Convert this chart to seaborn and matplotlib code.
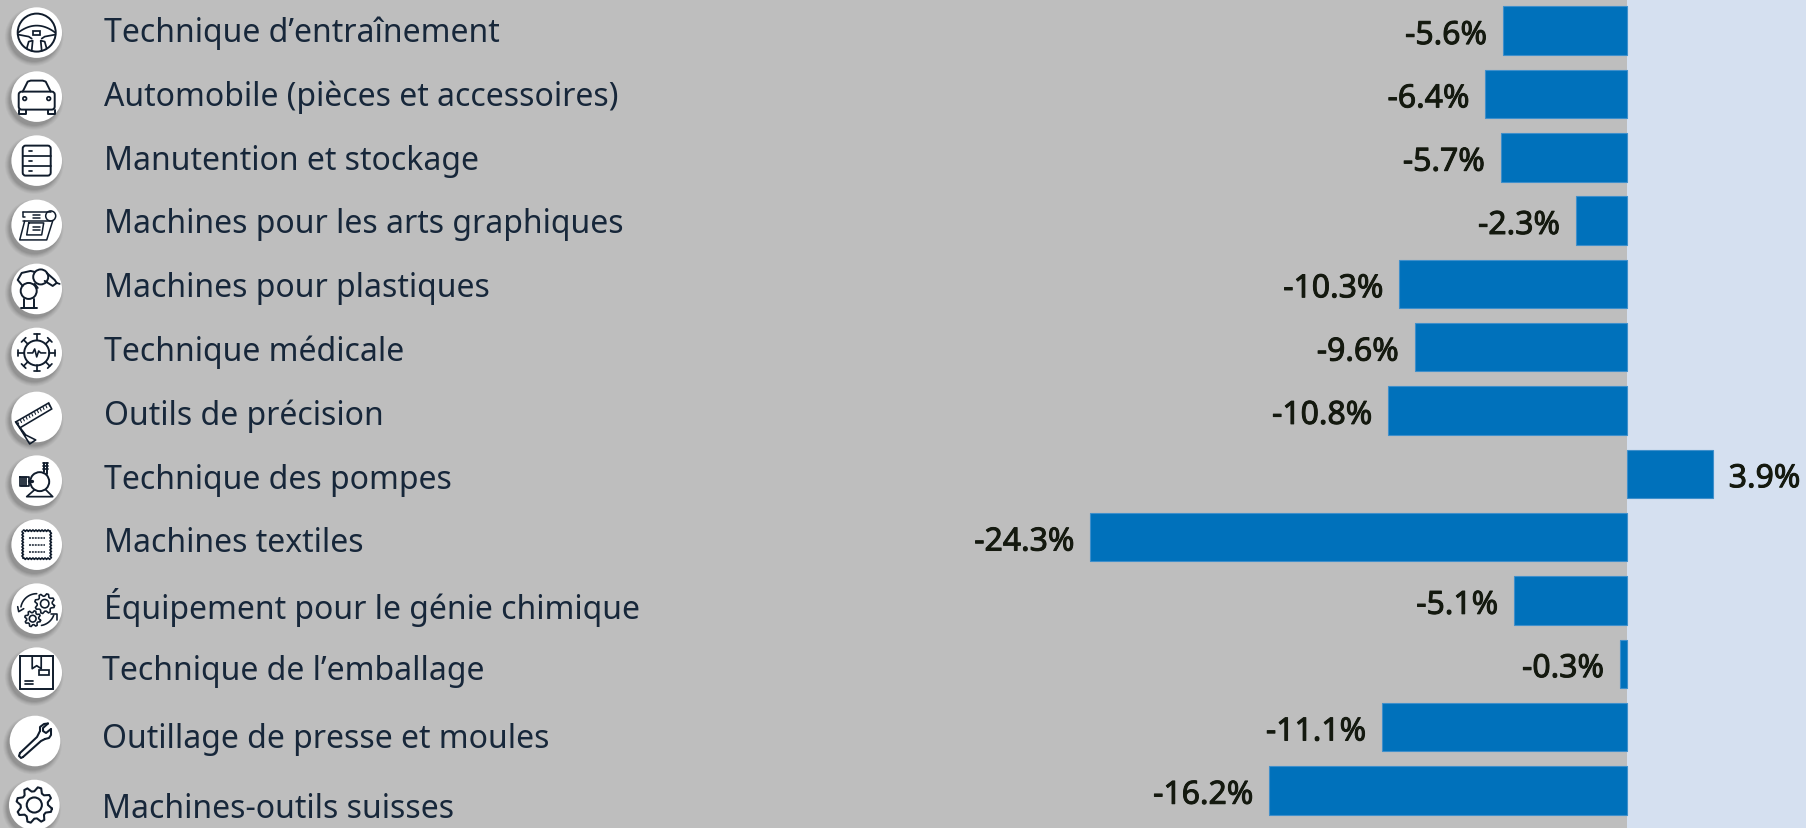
import numpy as np
import pandas as pd
import seaborn as sns
import matplotlib.pyplot as plt
import matplotlib.patheffects as pe
from matplotlib.patches import Circle, Rectangle, FancyBboxPatch, Polygon

categories = ["Technique d’entraînement", "Automobile (pièces et accessoires)",
              "Manutention et stockage", "Machines pour les arts graphiques",
              "Machines pour plastiques", "Technique médicale",
              "Outils de précision", "Technique des pompes", "Machines textiles",
              "Équipement pour le génie chimique", "Technique de l’emballage",
              "Outillage de presse et moules", "Machines-outils suisses"]
values = [-5.6, -6.4, -5.7, -2.3, -10.3, -9.6, -10.8, 3.9, -24.3, -5.1, -0.3, -11.1, -16.2]

# positions in pixels, the source slide is not quite regular
label_x = [104, 104, 104, 104, 104, 104, 104, 104, 104, 104, 102, 102, 102]
label_y = [33, 97, 161, 224, 288, 352, 416, 480, 543, 607, 671, 739, 809]
icon_x = [36.7, 36.7, 36.7, 36.7, 36.7, 36.7, 36.7, 36.7, 36.7, 36.7, 36.7, 35, 34.3]
icon_y = [32.7, 96.7, 160.7, 225, 289, 353, 417, 480.7, 544.7, 608.7, 672.7, 741, 805]

BG = "#BEBEBE"
RIGHT = "#D5E0F0"
BAR = "#0071BB"
LABEL = "#17273A"
VALUE = "#14190F"
INK = "#101C2C"
FONT = "Noto Sans"
LW = 0.78

W, H = 1806, 828
fig = plt.figure(figsize=((W + 0.1) / 100, (H + 0.1) / 100), dpi=100, facecolor=BG)
ax = fig.add_axes([0, 0, 1, 1])
ax.set_facecolor(BG)

df = pd.DataFrame({"cat": categories, "val": values})
sns.barplot(data=df, x="val", y="cat", order=categories, orient="h", color=BAR,
            saturation=1, width=0.766, edgecolor="#3F8FCB", linewidth=0.8, ax=ax)
ax.set_xlim(-73.7, 8.13)
ax.set_ylim(12.594, -0.4866)
ax.axvspan(0, 8.13, color=RIGHT, lw=0, zorder=0)
texts = ax.bar_label(ax.containers[0], labels=[f"{v:.1f}%" for v in values], padding=11.5,
                     fontsize=23, color=VALUE, family=FONT)
for t in texts:
    t.xyann = (t.xyann[0], -3.5)
    t.set_path_effects([pe.withStroke(linewidth=0.7, foreground=VALUE)])
ax.set_axis_off()

# overlay in pixel units for the row labels and pictograms
ov = fig.add_axes([0, 0, 1, 1])
ov.set_xlim(0, W)
ov.set_ylim(H, 0)
ov.set_axis_off()
ov.patch.set_alpha(0)

for name, x, y in zip(categories, label_x, label_y):
    ov.text(x, y, name, fontsize=23, color=LABEL, family=FONT, va="center", ha="left")


def ln(cx, cy, xs, ys, lw=1.6):
    ov.plot(cx + np.array(xs, float), cy + np.array(ys, float), color=INK, lw=lw * LW,
            solid_capstyle="round", solid_joinstyle="round", zorder=6)


def circ(cx, cy, x, y, r, lw=1.6):
    ov.add_patch(Circle((cx + x, cy + y), r, fc="none", ec=INK, lw=lw * LW, zorder=6))


def rect(cx, cy, x0, y0, w, h, lw=1.6, pad=0):
    if pad:
        ov.add_patch(FancyBboxPatch((cx + x0 + pad, cy + y0 + pad), w - 2 * pad, h - 2 * pad,
                                    boxstyle=f"round,pad={pad}", fc="none", ec=INK, lw=lw * LW, zorder=6))
    else:
        ov.add_patch(Rectangle((cx + x0, cy + y0), w, h, fc="none", ec=INK, lw=lw * LW, zorder=6))


def gear(cx, cy, x, y, r, teeth=8, lw=1.6, hole=0.42):
    a = np.linspace(0, 2 * np.pi, teeth * 4 + 1) + np.pi / teeth / 2
    rad = np.tile([r, r, r * 0.76, r * 0.76], teeth + 1)[:len(a)]
    ln(cx, cy, x + rad * np.cos(a), y + rad * np.sin(a), lw)
    circ(cx, cy, x, y, r * hole, lw)


def icon_wheel(cx, cy):
    circ(cx, cy, 0, 0, 19, 1.8)
    t = np.linspace(-1, 1, 20)
    ln(cx, cy, 18.5 * t, -7 * (1 - t ** 2), 1.6)
    ln(cx, cy, [-18.5, -8, -5], [2, 4, 6])
    ln(cx, cy, [18.5, 8, 5], [2, 4, 6])
    rect(cx, cy, -3.5, -2, 7, 4.5, 1.6)
    ln(cx, cy, [-10, -8, -4, -5], [16, 9, 8, 18])
    ln(cx, cy, [10, 8, 4, 5], [16, 9, 8, 18])


def icon_car(cx, cy):
    ln(cx, cy, [-14, -9, -6, 6, 9, 14], [-5, -15, -16, -16, -15, -5], 1.8)
    rect(cx, cy, -18, -5, 36, 18, 1.8, pad=3)
    circ(cx, cy, -12, 2, 1.8)
    circ(cx, cy, 12, 2, 1.8)
    ln(cx, cy, [-18, -18, -11, -11], [13, 17, 17, 13], 1.8)
    ln(cx, cy, [18, 18, 11, 11], [13, 17, 17, 13], 1.8)


def icon_rack(cx, cy):
    rect(cx, cy, -14, -15, 28, 30, 1.8, pad=3)
    for yy in (-5, 5):
        ln(cx, cy, [-14, 14], [yy, yy], 1.6)
    for yy in (-10, 0, 10):
        ln(cx, cy, [-8, -5], [yy, yy], 1.6)


def icon_print(cx, cy):
    ln(cx, cy, [-14, 14], [-13, -13], 1.4)
    ln(cx, cy, [-14, 14], [-4, -4], 1.4)
    circ(cx, cy, 14, -9, 5, 1.4)
    ln(cx, cy, [-14, -14, -12], [-13, -8, -8], 1.4)
    ln(cx, cy, [-12, -17, 10, 16], [-4, 15, 15, -4], 1.4)
    ln(cx, cy, [-8, -10, 5, 7, -8], [-2, 10, 10, -2, -2], 1.4)
    for yy in (-10, -7, 2, 5):
        ln(cx, cy, [-4, 3], [yy, yy], 1.4)


def icon_robot(cx, cy):
    circ(cx, cy, -8, 2, 8, 1.8)
    circ(cx, cy, 4, -12, 7.5, 1.8)
    ln(cx, cy, [-14, -19, -15, -6, -2], [-3, -9, -16, -18, -17], 1.8)
    ln(cx, cy, [-2, 1], [-5, -1], 1.8)
    ln(cx, cy, [10, 18, 20, 16, 8], [-16, -9, -6, -3, -8], 1.8)
    ln(cx, cy, [20, 23], [-6, -5], 1.6)
    ln(cx, cy, [-13, -13], [10, 19], 1.8)
    ln(cx, cy, [-3, -3], [10, 19], 1.8)
    ln(cx, cy, [-16, 0], [19, 19], 1.8)


def icon_virus(cx, cy):
    circ(cx, cy, 0, 0, 12.5, 1.8)
    for a in np.arange(8) * np.pi / 4:
        ca, sa = np.cos(a), np.sin(a)
        ln(cx, cy, [12.5 * ca, 18.5 * ca], [12.5 * sa, 18.5 * sa], 1.6)
        ln(cx, cy, [18.5 * ca - 3 * sa, 18.5 * ca + 3 * sa], [18.5 * sa + 3 * ca, 18.5 * sa - 3 * ca], 1.6)
    ln(cx, cy, [-9, -4, -2, 0, 2, 4, 9], [0, 0, -4, 4, -2, 0, 0], 1.5)


def icon_square(cx, cy):
    ov.add_patch(Polygon(np.array([[-21, 5], [12, -14], [15, -8], [-17, 11]]) + [cx, cy],
                         fc="none", ec=INK, lw=1.5 * LW, zorder=6))
    for k in np.linspace(0, 1, 12):
        x0, y0 = -19 + 31 * k, 5 - 18 * k
        ln(cx, cy, [x0, x0 + 1], [y0, y0 + 2.2], 1.0)
    ln(cx, cy, [-17, -7, -1, -11, -21], [11, 27, 23, 18, 5], 1.5)


def icon_pump(cx, cy):
    circ(cx, cy, 3, 1, 9.5, 1.8)
    ln(cx, cy, [-17, -8, -8, -17, -17], [-4, -4, 5, 5, -4], 1.6)
    for xx in (-15, -13, -11):
        ln(cx, cy, [xx, xx], [-4, 5], 1.6)
    ln(cx, cy, [-8, -5], [0, 0], 3)
    ln(cx, cy, [7, 7], [-9, -18], 1.8)
    ln(cx, cy, [10, 10], [-7, -18], 1.8)
    for yy in (-18, -15, -12):
        ln(cx, cy, [6, 11], [yy, yy], 1.6)
    ln(cx, cy, [-2, -10, 16, 9], [9, 16, 16, 9], 1.6)


def icon_textile(cx, cy):
    s = np.linspace(-1, 1, 60)
    wave = 0.8 * np.sin(s * 28)
    ln(cx, cy, 13.5 * s, -14 + wave, 1.4)
    ln(cx, cy, 13.5 * s, 14 + wave, 1.4)
    ln(cx, cy, -14 + wave, 13.5 * s, 1.4)
    ln(cx, cy, 14 + wave, 13.5 * s, 1.4)
    for yy in (-7, 0, 7):
        ov.plot([cx - 8, cx + 8], [cy + yy, cy + yy], color=INK, lw=1.4 * LW, ls=(0, (1.3, 0.6)), zorder=6)


def icon_gears(cx, cy):
    gear(cx, cy, 8, -5, 10, lw=1.5)
    gear(cx, cy, -4, 10, 8, lw=1.5)
    t = np.radians(np.linspace(190, 270, 14))
    ln(cx, cy, 16 * np.cos(t), 16 * np.sin(t) + 1, 1.5)
    ln(cx, cy, [-19, -18, -13], [-2, 3, 0], 1.5)
    t = np.radians(np.linspace(20, 80, 12))
    ln(cx, cy, 16 * np.cos(t) + 2, 16 * np.sin(t) + 1, 1.5)
    ln(cx, cy, [14, 20, 20], [5, 5, 11], 1.5)


def icon_box(cx, cy):
    rect(cx, cy, -16.5, -16.5, 33, 33, 1.8)
    ln(cx, cy, [-4.5, -4.5, 0, 4.5, 4.5], [-16, -4, -7, -4, -16], 1.6)
    rect(cx, cy, 2, -2.5, 10, 5, 1.6)
    ln(cx, cy, [-12, -4], [8, 8], 1.6)
    ln(cx, cy, [-12, -4], [11, 11], 1.6)


def icon_wrench(cx, cy):
    ln(cx, cy, [-15, 2, 5], [12, -4, -10], 1.9)
    ln(cx, cy, [-12, 6, 10], [16, 0, -2], 1.9)
    ln(cx, cy, [-15, -16, -14, -12], [12, 15, 17, 16], 1.9)
    ln(cx, cy, [5, 5, 9, 13], [-10, -14, -17, -17.5], 1.9)
    ln(cx, cy, [13, 8, 8, 11, 16], [-17.5, -13, -10, -8, -12], 1.9)
    ln(cx, cy, [16, 16, 14, 10], [-12, -6, -3, -2], 1.9)


def icon_gear(cx, cy):
    gear(cx, cy, 0, 0, 18, teeth=8, lw=1.9, hole=0.42)


drawers = [icon_wheel, icon_car, icon_rack, icon_print, icon_robot, icon_virus, icon_square,
           icon_pump, icon_textile, icon_gears, icon_box, icon_wrench, icon_gear]

for draw, x, y in zip(drawers, icon_x, icon_y):
    # soft shadow, lower left
    for grow, alpha in zip((4, 3, 2, 1, 0), (0.06, 0.07, 0.09, 0.12, 0.15)):
        ov.add_patch(Circle((x - 2.5, y + 4), 25.3 + grow, fc="#555555", ec="none", alpha=alpha, zorder=3))
    ov.add_patch(Circle((x, y), 25.3, fc="white", ec="none", zorder=5))
    draw(x, y)

ov.set_xlim(0, W)
ov.set_ylim(H, 0)

fig.savefig("out.png", dpi=100, facecolor=BG)
